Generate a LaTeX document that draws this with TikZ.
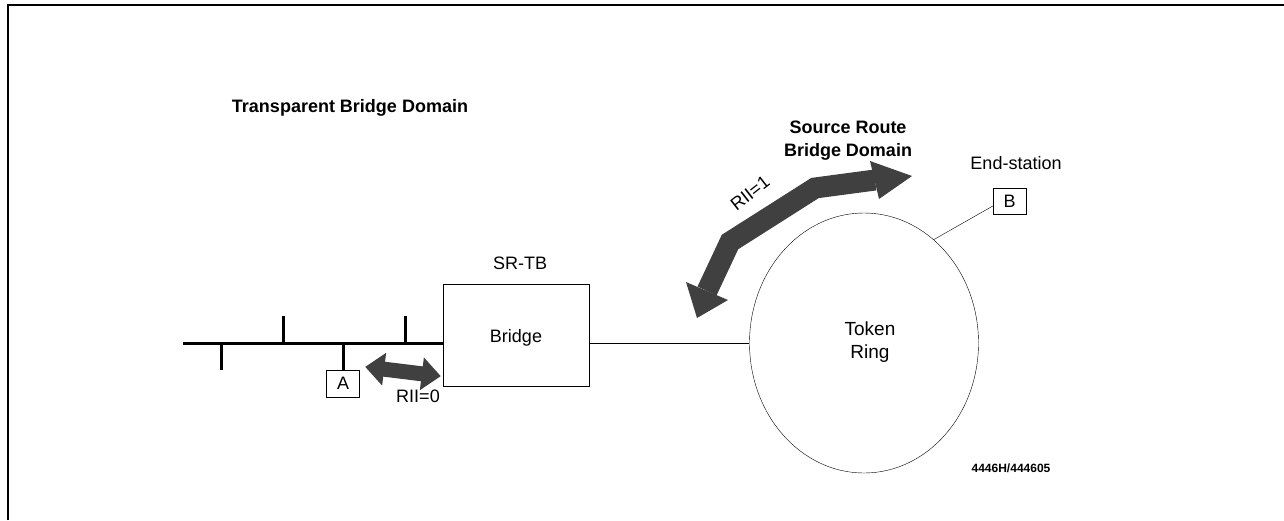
\documentclass[tikz,border=0pt]{standalone}
\usepackage{fontspec}
\setmainfont{Liberation Sans}
\usetikzlibrary{shapes.geometric}
\tikzset{
  lbl/.style={font=\fontsize{18}{23}\selectfont,inner sep=0pt,align=center},
  hdg/.style={lbl,font=\fontsize{18}{23}\selectfont\bfseries},
  stn/.style={draw,thin,minimum width=33pt,minimum height=27pt,inner sep=0pt,font=\fontsize{18}{20}\selectfont},
  bigarrow/.style={black!75},
}
\begin{document}
\begin{tikzpicture}[x=1pt,y=-1pt]
\useasboundingbox (0,0) rectangle (1284,520);
\draw[line width=1.5pt] (8,520)--(8,5)--(1284,5);
\node[hdg] (tbd) at (350,108) {Transparent Bridge Domain};
\node[hdg] (srd) at (848,141) {Source Route\\Bridge Domain};
\node[draw,thin,minimum width=146pt,minimum height=102pt,inner sep=0pt] (bridge) at (516,335) {};
\node[lbl] (bridgelbl) at (516,338) {Bridge};
\node[lbl] (srtb) at (520,263) {SR-TB};
\node[draw,thin,ellipse,minimum width=229pt,minimum height=260pt,inner sep=0pt] (ring) at (864,343) {};
\node[lbl,font=\fontsize{19}{23}\selectfont] (ringlbl) at (870,342) {Token\\Ring};
\node[stn] (A) at (343,383.5) {A};
\node[stn,minimum height=26pt] (B) at (1009.5,201) {B};
\node[lbl] (es) at (1016,163) {End-station};
\node[lbl,font=\fontsize{12}{12}\selectfont\bfseries] (fig) at (1011,468) {4446H/444605};
\node[lbl] (rii0) at (418,396) {RII=0};
\node[lbl,rotate=38] (rii1) at (750,193) {RII=1};
\coordinate (busL) at (183,343);
\coordinate (busR) at (bridge.west|-busL);
\draw[line width=3pt] (busL)--(busR);
\foreach \tx in {283,405} \draw[line width=3pt] (\tx,343)--(\tx,316);
\draw[line width=3pt] (221,343)--(221,370);
\draw[line width=3pt] (A.north|-busL)--(A.north);
\draw[thin] (bridge.east|-ring.west)--(ring.west);
\draw[thin] (B.west)++(0,5)--(ring.56);
\begin{scope}[shift={(403,371.5)},rotate=-7]
\fill[bigarrow] (-38,0)--(-19,-16.5)--(-19,-7.5)--(19,-7.5)--(19,-16.5)--(38,0)--(19,16.5)--(19,7.5)--(-19,7.5)--(-19,16.5)--cycle;
\end{scope}
\draw[bigarrow,line width=21pt,line join=miter] (707,291)--(730,242)--(815,188)--(875,180);
\fill[bigarrow] (697,318)--(686,282)--(728,300)--cycle;
\fill[bigarrow] (912,176)--(870,161)--(879,199)--cycle;
\end{tikzpicture}
\end{document}
